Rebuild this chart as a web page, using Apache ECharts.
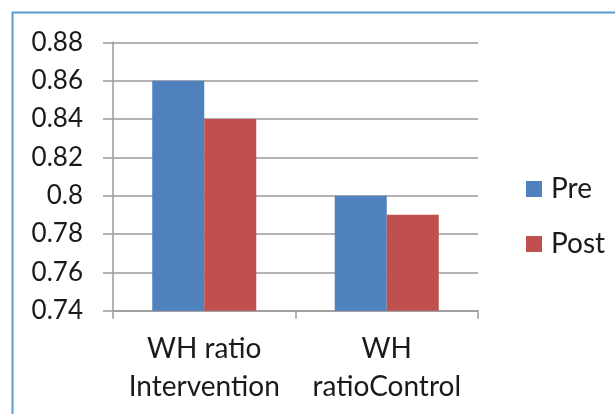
<!DOCTYPE html>
<html>
<head>
<meta charset="utf-8">
<script src="https://cdn.jsdelivr.net/npm/echarts@6/dist/echarts.min.js"></script>
<style>
  html, body { margin: 0; padding: 0; background: #fff; }
  #chart { width: 615px; height: 414px; }
</style>
</head>
<body>
<div id="chart"></div>
<script>
// Waist-to-hip ratio, before and after, per group
const categories = ['WH ratio\nIntervention', 'WH\nratioControl'];
const preValues = [0.86, 0.80];
const postValues = [0.84, 0.79];
const seriesNames = ['Pre', 'Post'];
const yTicks = { min: 0.74, max: 0.88, interval: 0.02 };

const FONT = 'Lato';
const TEXT = '#1a1a1a';
const GRID = '#9a9a9a';

const chart = echarts.init(document.getElementById('chart'), null, { renderer: 'canvas' });

chart.setOption({
  animation: false,
  backgroundColor: '#ffffff',
  textStyle: { fontFamily: FONT, color: TEXT },
  graphic: [{
    type: 'rect',
    shape: { x: 12.5, y: 12.5, width: 700, height: 500 },
    style: { fill: 'none', stroke: '#5b9bd5', lineWidth: 2 },
    silent: true
  }],
  grid: { left: 113, right: 137, top: 42.3, bottom: 103.3 },
  legend: {
    orient: 'vertical',
    left: 526,
    top: 175,
    padding: 0,
    icon: 'rect',
    itemWidth: 16,
    itemHeight: 16,
    itemGap: 27,
    textStyle: { fontFamily: FONT, fontSize: 28, lineHeight: 28, color: TEXT, padding: [0, 0, 0, 4] },
    data: seriesNames
  },
  xAxis: {
    type: 'category',
    data: categories,
    axisLine: { show: true, lineStyle: { color: GRID, width: 1.5 } },
    axisTick: { show: true, length: 8, alignWithLabel: false, lineStyle: { color: GRID, width: 1.5 } },
    axisLabel: {
      fontFamily: FONT, fontSize: 28, color: TEXT,
      margin: 19, lineHeight: 38, interval: 0
    },
    splitLine: { show: false }
  },
  yAxis: {
    type: 'value',
    min: yTicks.min,
    max: yTicks.max,
    interval: yTicks.interval,
    axisLine: { show: true, lineStyle: { color: GRID, width: 1.5 } },
    axisTick: { show: true, length: 10, lineStyle: { color: GRID, width: 1.5 } },
    axisLabel: {
      fontFamily: FONT, fontSize: 26, color: TEXT, margin: 30,
      formatter: v => String(+v.toFixed(2))
    },
    splitLine: { show: true, lineStyle: { color: GRID, width: 1.5 } }
  },
  series: [
    {
      name: seriesNames[0],
      type: 'bar',
      data: preValues,
      barGap: '0%',
      barCategoryGap: '43%',
      itemStyle: { color: '#4f81bd' }
    },
    {
      name: seriesNames[1],
      type: 'bar',
      data: postValues,
      barGap: '0%',
      barCategoryGap: '43%',
      itemStyle: { color: '#c0504d' }
    }
  ]
});
</script>
</body>
</html>
